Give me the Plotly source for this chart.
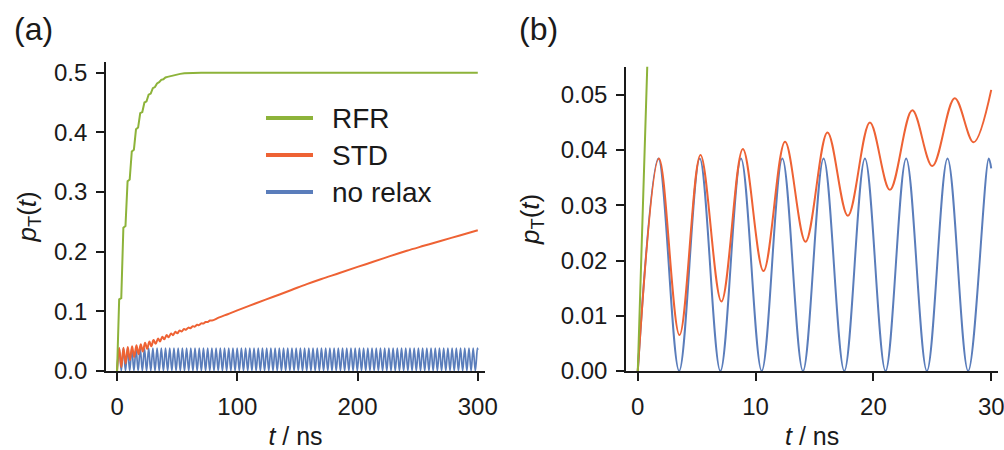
import plotly.graph_objects as go

# ---------------- data ----------------
# RFR (green): population p_T(t) vs t [ns]
rfr_t = [0.0, 1.75, 3.5, 5.25, 7.0, 8.75, 10.5, 12.25, 14.0, 15.75, 17.5, 19.25, 21.0,
         22.75, 24.5, 26.25, 28.0, 29.75, 31.5, 33.25, 35.0, 36.75, 38.5, 40.25, 42.0,
         45.5, 49.0, 52.5, 56.0, 63.0, 70.0, 100.0, 150.0, 200.0, 250.0, 300.0]
rfr_p = [0.0, 0.120, 0.122, 0.240, 0.243, 0.318, 0.321, 0.368, 0.371, 0.405, 0.408, 0.432, 0.434,
         0.450, 0.452, 0.463, 0.465, 0.474, 0.476, 0.482, 0.484, 0.488, 0.489, 0.492, 0.493,
         0.495, 0.497, 0.498, 0.499, 0.4995, 0.500, 0.500, 0.500, 0.500, 0.500, 0.500]

# STD (orange)
std_t = [0.0, 1.80, 3.54, 5.32, 7.10, 8.92, 10.67, 12.50, 14.24, 16.10, 17.83, 19.70, 21.40,
         23.30, 25.00, 26.90, 28.50, 30.00, 30.50, 32.10, 34.10, 35.70, 37.70, 39.30, 41.30,
         42.90, 44.90, 46.50, 48.50, 50.10, 52.10, 53.70, 55.70, 57.30, 59.30, 60.90, 62.90,
         64.50, 66.50, 68.10, 70.10, 71.70, 73.70, 75.30, 77.30, 78.90, 85.0, 92.0, 100.0,
         115.0, 130.0, 145.0, 157.8, 170.0, 185.6, 200.0, 213.0, 227.0, 241.0, 255.0, 269.0,
         285.0, 300.0]
std_p = [0.0, 0.0385, 0.0065, 0.0391, 0.0126, 0.0402, 0.0181, 0.0415, 0.0234, 0.0432, 0.0281,
         0.0450, 0.0328, 0.0472, 0.0371, 0.0494, 0.0414, 0.0509, 0.0518, 0.0455, 0.0546, 0.0494,
         0.0574, 0.0531, 0.0602, 0.0566, 0.0630, 0.0600, 0.0656, 0.0632, 0.0680, 0.0662, 0.0704,
         0.0690, 0.0727, 0.0717, 0.0750, 0.0743, 0.0774, 0.0769, 0.0798, 0.0795, 0.0822, 0.0820,
         0.0847, 0.0845, 0.0898, 0.0952, 0.1015, 0.1132, 0.1244, 0.1358, 0.1456, 0.1543, 0.1646,
         0.1745, 0.1830, 0.1925, 0.2015, 0.2098, 0.2180, 0.2272, 0.2360]

# no relax (blue): times of the minima (p = 0) and maxima (p = 0.0385)
nr_trough_t = [0.00, 3.51, 7.01, 10.52, 14.02, 17.53, 21.03, 24.54, 28.04, 31.55, 35.05, 38.56,
               42.06, 45.57, 49.07, 52.58, 56.08, 59.59, 63.09, 66.60, 70.10, 73.61, 77.11, 80.62,
               84.12, 87.63, 91.13, 94.64, 98.14, 101.65, 105.15, 108.66, 112.16, 115.67, 119.17,
               122.68, 126.18, 129.69, 133.19, 136.70, 140.20, 143.71, 147.21, 150.72, 154.22,
               157.73, 161.23, 164.74, 168.24, 171.75, 175.25, 178.76, 182.26, 185.77, 189.27,
               192.78, 196.28, 199.79, 203.29, 206.80, 210.30, 213.81, 217.31, 220.82, 224.32,
               227.83, 231.33, 234.84, 238.34, 241.85, 245.35, 248.86, 252.36, 255.87, 259.37,
               262.88, 266.38, 269.89, 273.39, 276.90, 280.40, 283.91, 287.41, 290.92, 294.42,
               297.93]
nr_peak_t = [1.75, 5.26, 8.76, 12.27, 15.77, 19.28, 22.78, 26.29, 29.79, 33.30, 36.80, 40.31,
             43.81, 47.32, 50.82, 54.33, 57.83, 61.34, 64.84, 68.35, 71.85, 75.36, 78.86, 82.37,
             85.87, 89.38, 92.88, 96.39, 99.89, 103.40, 106.90, 110.41, 113.91, 117.42, 120.92,
             124.43, 127.93, 131.44, 134.94, 138.45, 141.95, 145.46, 148.96, 152.47, 155.97,
             159.48, 162.98, 166.49, 169.99, 173.50, 177.00, 180.51, 184.01, 187.52, 191.02,
             194.53, 198.03, 201.54, 205.04, 208.55, 212.05, 215.56, 219.06, 222.57, 226.07,
             229.58, 233.08, 236.59, 240.09, 243.60, 247.10, 250.61, 254.11, 257.62, 261.12,
             264.63, 268.13, 271.64, 275.14, 278.65, 282.15, 285.66, 289.16, 292.67, 296.17,
             299.68]
nr_trough_p = 0.0
nr_peak_p = 0.0385
nr_end_a = [300.0, 0.0355]   # last sample, panel (a)
nr_end_b = [30.0, 0.0367]    # last sample, panel (b)

series_names = ["RFR", "STD", "no relax"]
x_ticks_a = [0, 100, 200, 300]
y_ticks_a = [0.0, 0.1, 0.2, 0.3, 0.4, 0.5]
x_ticks_b = [0, 10, 20, 30]
y_ticks_b = [0.00, 0.01, 0.02, 0.03, 0.04, 0.05]
t_max_b = 30.0

# ---------------- build ----------------
GREEN, ORANGE, BLUE = "#8DB33A", "#EE6234", "#5A7DBB"
FONT = "Liberation Sans, Arial, Helvetica, sans-serif"
TXT = "#1a1a1a"
W, H = 1004, 450

pts = sorted([(t, nr_trough_p) for t in nr_trough_t] + [(t, nr_peak_p) for t in nr_peak_t])
nr_t_a = [p[0] for p in pts] + [nr_end_a[0]]
nr_p_a = [p[1] for p in pts] + [nr_end_a[1]]
nr_t_b = [p[0] for p in pts if p[0] < t_max_b] + [nr_end_b[0]]
nr_p_b = [p[1] for p in pts if p[0] < t_max_b] + [nr_end_b[1]]

def clip(ts, ps, tmax):
    out = [(t, p) for t, p in zip(ts, ps) if t <= tmax]
    return [o[0] for o in out], [o[1] for o in out]

std_t_b, std_p_b = clip(std_t, std_p, t_max_b)
rfr_t_b, rfr_p_b = clip(rfr_t, rfr_p, t_max_b)

fig = go.Figure()
lw = 2.0
# panel (a)
fig.add_trace(go.Scatter(x=nr_t_a, y=nr_p_a, mode="lines", name=series_names[2],
                         line=dict(color=BLUE, width=1.7, shape="spline"), xaxis="x", yaxis="y",
                         showlegend=False))
fig.add_trace(go.Scatter(x=std_t, y=std_p, mode="lines", name=series_names[1],
                         line=dict(color=ORANGE, width=lw, shape="spline"), xaxis="x", yaxis="y",
                         showlegend=False))
fig.add_trace(go.Scatter(x=rfr_t, y=rfr_p, mode="lines", name=series_names[0],
                         line=dict(color=GREEN, width=lw), xaxis="x", yaxis="y",
                         showlegend=False))
# panel (b)
fig.add_trace(go.Scatter(x=nr_t_b, y=nr_p_b, mode="lines", name=series_names[2],
                         line=dict(color=BLUE, width=lw, shape="spline"), xaxis="x2", yaxis="y2",
                         showlegend=False))
fig.add_trace(go.Scatter(x=std_t_b, y=std_p_b, mode="lines", name=series_names[1],
                         line=dict(color=ORANGE, width=lw, shape="spline"), xaxis="x2", yaxis="y2",
                         showlegend=False))
fig.add_trace(go.Scatter(x=rfr_t_b, y=rfr_p_b, mode="lines", name=series_names[0],
                         line=dict(color=GREEN, width=lw), xaxis="x2", yaxis="y2",
                         showlegend=False))

ax_common = dict(showgrid=False, zeroline=False, showline=True, linecolor=TXT, linewidth=1.6,
                 ticks="outside", ticklen=8, tickwidth=1.6, tickcolor=TXT,
                 tickfont=dict(family=FONT, size=24, color=TXT), automargin=False,
                 ticklabeloverflow="allow")

y_bot = 1 - 371 / H
fig.update_layout(
    width=W, height=H, margin=dict(l=0, r=0, t=0, b=0),
    paper_bgcolor="white", plot_bgcolor="white", showlegend=False,
    font=dict(family=FONT, color=TXT),
    xaxis=dict(domain=[106 / W, 485 / W], range=[-9.2, 306], tickvals=x_ticks_a,
               anchor="y", ticklabelstandoff=5,
               title=dict(text="<i>t</i> / ns", font=dict(size=25), standoff=15),
               **ax_common),
    yaxis=dict(domain=[y_bot, 1 - 61.7 / H], range=[0, 0.5184], tickvals=y_ticks_a,
               tickformat=".1f", anchor="x", ticklabelstandoff=4,
               title=dict(text="<i>p</i><sub>T</sub>(<i>t</i>)", font=dict(size=26), standoff=10),
               **ax_common),
    xaxis2=dict(domain=[626 / W, 998.3 / W], range=[-1.0, 30.6], tickvals=x_ticks_b,
                anchor="y2", ticklabelstandoff=5,
                title=dict(text="<i>t</i> / ns", font=dict(size=25), standoff=15),
                **ax_common),
    yaxis2=dict(domain=[y_bot, 1 - 66.7 / H], range=[0, 0.0551], tickvals=y_ticks_b,
                tickformat=".2f", anchor="x2", ticklabelstandoff=4,
                title=dict(text="<i>p</i><sub>T</sub>(<i>t</i>)", font=dict(size=26), standoff=14),
                **ax_common),
)

# panel labels
for lab, xpx in [("(a)", 33), ("(b)", 538)]:
    fig.add_annotation(text=lab, x=xpx / W, y=1 - 29 / H, xref="paper", yref="paper",
                       xanchor="center", yanchor="middle", showarrow=False,
                       font=dict(family=FONT, size=32, color=TXT))

# legend (drawn inside panel a)
leg_rows = [118, 155, 192]
for name, col, ypx in zip(series_names, [GREEN, ORANGE, BLUE], leg_rows):
    fig.add_shape(type="line", xref="paper", yref="paper", x0=266 / W, x1=313 / W,
                  y0=1 - ypx / H, y1=1 - ypx / H, line=dict(color=col, width=4))
    fig.add_annotation(text=name, x=330 / W, y=1 - ypx / H, xref="paper", yref="paper",
                       xanchor="left", yanchor="middle", showarrow=False,
                       font=dict(family=FONT, size=28, color=TXT))

fig.write_html("out.html", config={"displayModeBar": False},
               post_script="document.body.style.margin='0';document.body.style.overflow='hidden';")
